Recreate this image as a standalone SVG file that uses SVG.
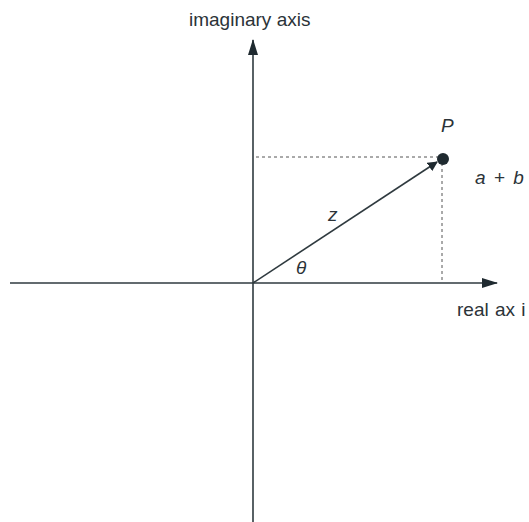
<svg xmlns="http://www.w3.org/2000/svg" width="529" height="522" viewBox="0 0 529 522">
<style>
.ax{stroke:#2f3a3f;stroke-width:1.6;fill:none}
.dot{stroke:#555;stroke-width:1;stroke-dasharray:3,3;fill:none}
.t{font-family:"Liberation Sans",Arial,sans-serif;font-size:19px;fill:#2b3338}
.i{font-style:italic}
</style>
<defs>
<marker id="ah" viewBox="0 0 10 10" refX="9" refY="5" markerWidth="10" markerHeight="10" markerUnits="userSpaceOnUse" orient="auto"><path d="M0,0 L10,5 L0,10 z" fill="#1f2a30"/></marker>
<marker id="ah2" viewBox="0 0 16 10" refX="15" refY="5" markerWidth="16" markerHeight="10" markerUnits="userSpaceOnUse" orient="auto"><path d="M0,0 L16,5 L0,10 z" fill="#1f2a30"/></marker>
</defs>
<g id="connectors">
<line class="ax" x1="10" y1="283" x2="497" y2="283" marker-end="url(#ah2)"/>
<line class="ax" x1="253" y1="522" x2="253" y2="40" marker-end="url(#ah2)"/>
<line class="dot" x1="256" y1="157" x2="438" y2="157"/>
<line class="dot" x1="442" y1="163" x2="442" y2="282"/>
<line class="ax" x1="253" y1="283" x2="437" y2="162" stroke-width="1.3" marker-end="url(#ah)"/>
</g>
<g id="P"><circle cx="443" cy="159" r="6" fill="#1f2a30"/><text class="t i" x="441" y="132" font-size="21">P</text></g>
<g id="labels">
<text class="t" x="189" y="26" font-size="19.5">imaginary axis</text>
<text class="t i" x="475" y="184" font-size="18" word-spacing="3">a + b</text>
<text class="t i" x="328" y="221">z</text>
<text class="t i" x="296" y="274" font-size="17">θ</text>
<text class="t" x="457" y="316" font-size="19" word-spacing="1">real ax i</text>
</g>
</svg>
